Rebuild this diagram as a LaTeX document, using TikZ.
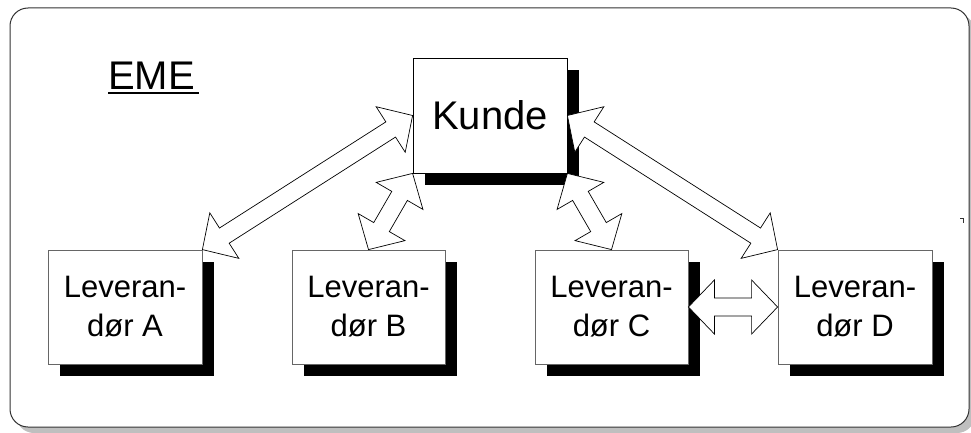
\documentclass[tikz,border=0pt]{standalone}
\usepackage{fontspec}
\setmainfont{Liberation Sans}
\usetikzlibrary{calc,shadows}

% hollow double-headed block arrow between two points
\newcommand\headlen{26pt}
\newcommand\headhalf{27pt}
\newcommand\shafthalf{9pt}
\newcommand\dblarrow[2]{%
  \draw[hollowarrow]
    (#1)
    -- ($(#1)!\headlen!(#2)!\headhalf!90:(#2)$)
    -- ($(#1)!\headlen!(#2)!\shafthalf!90:(#2)$)
    -- ($(#2)!\headlen!(#1)!\shafthalf!-90:(#1)$)
    -- ($(#2)!\headlen!(#1)!\headhalf!-90:(#1)$)
    -- (#2)
    -- ($(#2)!\headlen!(#1)!\headhalf!90:(#1)$)
    -- ($(#2)!\headlen!(#1)!\shafthalf!90:(#1)$)
    -- ($(#1)!\headlen!(#2)!\shafthalf!-90:(#2)$)
    -- ($(#1)!\headlen!(#2)!\headhalf!-90:(#2)$)
    -- cycle;}

\tikzset{
  frame/.style={draw=black!80, line width=1pt, fill=white, rounded corners=18pt,
    drop shadow={shadow xshift=6pt, shadow yshift=-6pt, fill=black!25, opacity=1}},
  boxshadow/.style={drop shadow={shadow xshift=12pt, shadow yshift=-12pt, fill=black, opacity=1}},
  kundebox/.style={draw=black, line width=0.8pt, fill=white, minimum width=154pt,
    minimum height=115pt, inner sep=0pt, font=\fontsize{40}{48}\selectfont, boxshadow},
  leverbox/.style={draw=black!60, line width=0.8pt, fill=white, minimum width=154pt,
    minimum height=114pt, inner sep=0pt, align=center,
    font=\fontsize{31}{39}\selectfont, boxshadow},
  hollowarrow/.style={draw=black, line width=0.7pt, fill=white, line join=miter},
  title/.style={anchor=base west, inner sep=0pt, font=\fontsize{40}{48}\selectfont}
}

\begin{document}
\begin{tikzpicture}[x=1pt, y=1pt]
  \useasboundingbox (0,0) rectangle (971,-433);

  % outer panel
  \path[frame] (10,-8) rectangle (969,-427);
  \draw[black!80, line width=0.6pt] (960,-218) -- (963,-218) -- (963,-223);

  % heading
  \node[title] (eme) at (108,-90) {EME};
  \draw[line width=2pt] ([yshift=-3.5pt]eme.base west) -- ([xshift=4pt,yshift=-3.5pt]eme.base east);

  % boxes
  \node[kundebox] (kunde) at (490,-115.5) {Kunde};
  \node[leverbox] (levA) at (125,-307) {Leveran-\\dør A};
  \node[leverbox, minimum width=153pt] (levB) at (368.5,-307) {Leveran-\\dør B};
  \node[leverbox, minimum width=153pt] (levC) at (611.5,-307) {Leveran-\\dør C};
  \node[leverbox] (levD) at (855,-307) {Leveran-\\dør D};

  % connections
  \dblarrow{kunde.west}{levA.north east}
  \dblarrow{kunde.south west}{levB.north}
  \dblarrow{kunde.south east}{levC.north}
  \dblarrow{kunde.east}{levD.north west}
  \dblarrow{levC.east}{levD.west}
\end{tikzpicture}
\end{document}
